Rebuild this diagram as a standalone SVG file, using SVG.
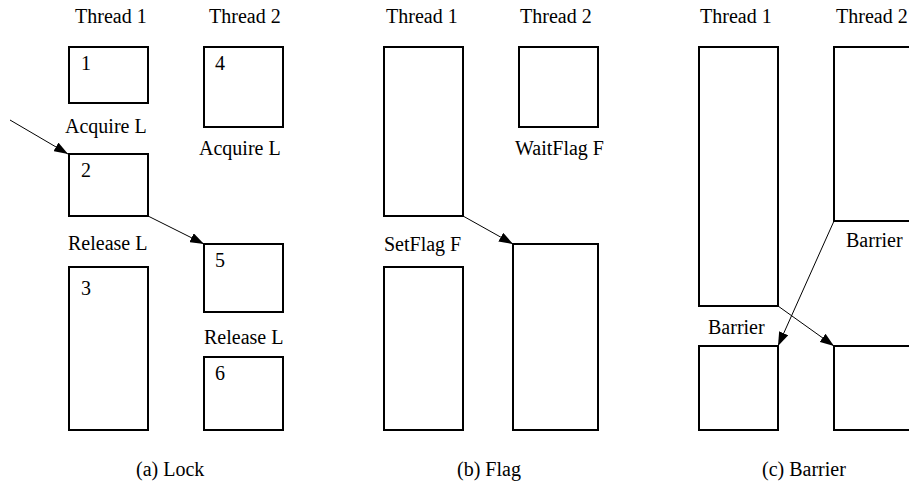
<svg xmlns="http://www.w3.org/2000/svg" width="909" height="483" viewBox="0 0 909 483">
<style>
.box{fill:#fff;stroke:#000;stroke-width:2}
.c{stroke:#000;stroke-width:1;fill:none;marker-end:url(#ah)}
</style>
<defs>
<marker id="ah" markerUnits="userSpaceOnUse" markerWidth="15" markerHeight="10" refX="14" refY="5" orient="auto">
<path d="M0,0 L14,5 L0,10 z" fill="#000"/>
</marker>
</defs>
<rect width="909" height="483" fill="#fff"/>
<g font-family="Liberation Serif, Times New Roman, serif" font-size="20" fill="#000">
<g id="panel-a">
<text x="75" y="23">Thread 1</text>
<text x="209" y="23">Thread 2</text>
<g id="a1"><rect class="box" x="69" y="47" width="79" height="56"/><text x="81" y="70">1</text></g>
<text x="65" y="133">Acquire L</text>
<g id="a2"><rect class="box" x="69" y="154" width="79" height="62"/><text x="81" y="177">2</text></g>
<text x="68" y="250">Release L</text>
<g id="a3"><rect class="box" x="69" y="267" width="79" height="163"/><text x="81" y="295">3</text></g>
<g id="a4"><rect class="box" x="204" y="47" width="79" height="80"/><text x="215" y="70">4</text></g>
<text x="199" y="155">Acquire L</text>
<g id="a5"><rect class="box" x="204" y="244" width="79" height="68"/><text x="215" y="267">5</text></g>
<text x="204" y="344">Release L</text>
<g id="a6"><rect class="box" x="204" y="357" width="79" height="73"/><text x="215" y="380">6</text></g>
<text x="136" y="476">(a) Lock</text>
</g>

<g id="panel-b">
<text x="386" y="23">Thread 1</text>
<text x="520" y="23">Thread 2</text>
<g id="b1"><rect class="box" x="384" y="47" width="79" height="169"/></g>
<text x="384" y="251">SetFlag F</text>
<g id="b2"><rect class="box" x="384" y="267" width="79" height="163"/></g>
<g id="b3"><rect class="box" x="519" y="47" width="79" height="80"/></g>
<text x="515" y="155">WaitFlag F</text>
<g id="b4"><rect class="box" x="513" y="244" width="85" height="186"/></g>
<text x="457" y="476">(b) Flag</text>
</g>

<g id="panel-c">
<text x="700" y="23">Thread 1</text>
<text x="836" y="23">Thread 2</text>
<g id="c1"><rect class="box" x="699" y="47" width="79" height="259"/></g>
<text x="708" y="334">Barrier</text>
<g id="c2"><rect class="box" x="699" y="346" width="79" height="84"/></g>
<g id="c3"><rect class="box" x="834" y="47" width="85" height="174"/></g>
<text x="846" y="247">Barrier</text>
<g id="c4"><rect class="box" x="834" y="346" width="85" height="84"/></g>
<text x="762" y="476">(c) Barrier</text>
</g>
</g>
<g id="connectors">
<line class="c" x1="10" y1="120" x2="68" y2="154"/>
<line class="c" x1="148" y1="216" x2="204" y2="244"/>
<line class="c" x1="463" y1="216" x2="513" y2="244"/>
<line class="c" x1="834" y1="221" x2="778" y2="346"/>
<line class="c" x1="778" y1="306" x2="834" y2="346"/>
</g>
</svg>
